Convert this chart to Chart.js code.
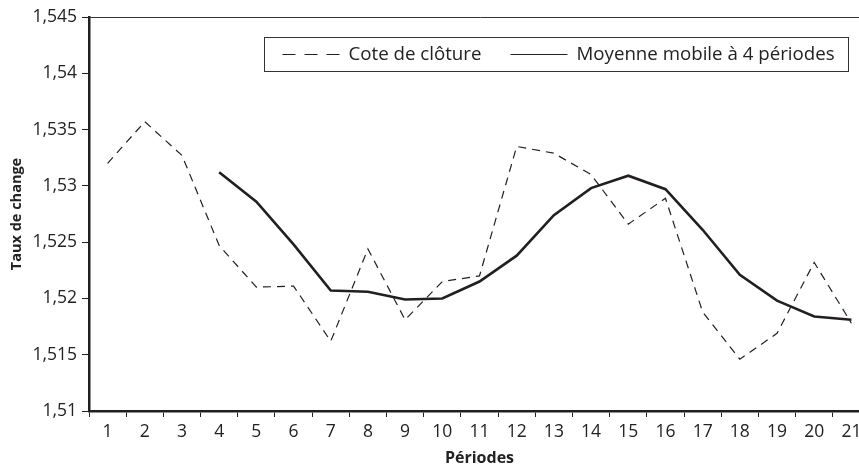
<!DOCTYPE html>
<html lang="fr">
<head>
  <meta charset="UTF-8" />
  <title>Taux de change – moyenne mobile</title>
  <script src="https://cdn.jsdelivr.net/npm/chart.js"></script>
  <style>
    html, body { margin: 0; padding: 0; background: #fff; overflow: hidden; }
    #wrap { width: 872px; height: 468px; }
  </style>
</head>
<body>
<div id="wrap"><canvas id="chart"></canvas></div>

<script>
const periodes = ['1','2','3','4','5','6','7','8','9','10','11','12','13','14','15','16','17','18','19','20','21'];
const coteCloture = [1.5320, 1.5357, 1.5327, 1.5247, 1.5210, 1.5211, 1.5162, 1.5244, 1.5181, 1.5215, 1.5220,
                     1.5335, 1.5329, 1.5310, 1.5266, 1.5289, 1.5188, 1.5146, 1.5169, 1.5232, 1.5178];
const moyenneMobile = [null, null, null, 1.5312, 1.5286, 1.5248, 1.5207, 1.5206, 1.5199, 1.5200, 1.5215,
                       1.5238, 1.5274, 1.5298, 1.5309, 1.5297, 1.5261, 1.5221, 1.5198, 1.5184, 1.5181];
const yTicks = [1.51, 1.515, 1.52, 1.525, 1.53, 1.535, 1.54, 1.545];

const police = '"Open Sans", "Noto Sans", sans-serif';
const encre = '#231f20';
const texte = '#222';

function virgule(v) {
  return String(+v.toFixed(3)).replace('.', ',');
}

// cadre du haut + légende encadrée dans la zone du graphique
const cadre = {
  id: 'cadre',
  afterDraw(chart) {
    const { ctx, chartArea } = chart;
    ctx.save();
    ctx.strokeStyle = '#333';
    ctx.lineWidth = 1;
    ctx.beginPath();
    ctx.moveTo(chartArea.left, chartArea.top + 0.5);
    ctx.lineTo(chart.width, chartArea.top + 0.5);
    ctx.stroke();

    const x0 = chartArea.left + 175.5, y0 = chartArea.top + 20.5;
    ctx.fillStyle = '#fff';
    ctx.fillRect(x0, y0, 584, 34);
    ctx.strokeRect(x0, y0, 584, 34);

    const yc = y0 + 17;
    const items = [
      { ds: chart.data.datasets[0], x: x0 + 18, dash: [13, 9], lw: 1.2 },
      { ds: chart.data.datasets[1], x: x0 + 246, dash: [], lw: 1.2 }
    ];
    ctx.font = '18.7px ' + police;
    ctx.textBaseline = 'middle';
    items.forEach(it => {
      ctx.strokeStyle = encre;
      ctx.lineWidth = it.lw;
      ctx.setLineDash(it.dash);
      ctx.beginPath();
      ctx.moveTo(it.x, yc);
      ctx.lineTo(it.x + 57, yc);
      ctx.stroke();
      ctx.setLineDash([]);
      ctx.fillStyle = texte;
      ctx.fillText(it.ds.label, it.x + 66, yc);
    });
    ctx.restore();
  }
};

new Chart(document.getElementById('chart'), {
  type: 'line',
  data: {
    labels: periodes,
    datasets: [
      {
        label: 'Cote de clôture',
        data: coteCloture,
        borderColor: encre,
        borderWidth: 1.2,
        borderDash: [8, 6],
        pointRadius: 0,
        tension: 0
      },
      {
        label: 'Moyenne mobile à 4 périodes',
        data: moyenneMobile,
        borderColor: encre,
        borderWidth: 2.6,
        pointRadius: 0,
        tension: 0
      }
    ]
  },
  options: {
    responsive: true,
    maintainAspectRatio: false,
    animation: false,
    layout: { padding: { top: 17, left: 0, right: 2, bottom: 0 } },
    plugins: { legend: { display: false }, tooltip: { enabled: false } },
    scales: {
      x: {
        offset: true,
        grid: { offset: true, drawOnChartArea: false, tickLength: 6, tickWidth: 1, tickColor: '#222' },
        border: { color: encre, width: 2.5 },
        ticks: { color: texte, font: { family: police, size: 17.5 }, padding: 5, maxRotation: 0, autoSkip: false },
        title: { display: true, text: 'Périodes', color: texte, font: { family: police, size: 16, weight: 'bold' }, padding: 0 },
        afterFit(s) { s.height = 57; }
      },
      y: {
        min: yTicks[0],
        max: yTicks[yTicks.length - 1],
        afterBuildTicks(s) { s.ticks = yTicks.map(v => ({ value: v })); },
        grid: { drawOnChartArea: false, tickLength: 7, tickWidth: 1, tickColor: '#222' },
        border: { color: encre, width: 2.5 },
        ticks: { color: texte, font: { family: police, size: 17.5 }, padding: 5, callback: v => virgule(v) },
        title: { display: true, text: 'Taux de change', color: texte, font: { family: police, size: 14.5, weight: 'bold' }, padding: { top: 8, bottom: 0 } },
        afterFit(s) { s.width = 89; }
      }
    }
  },
  plugins: [cadre]
});
</script>
</body>
</html>
